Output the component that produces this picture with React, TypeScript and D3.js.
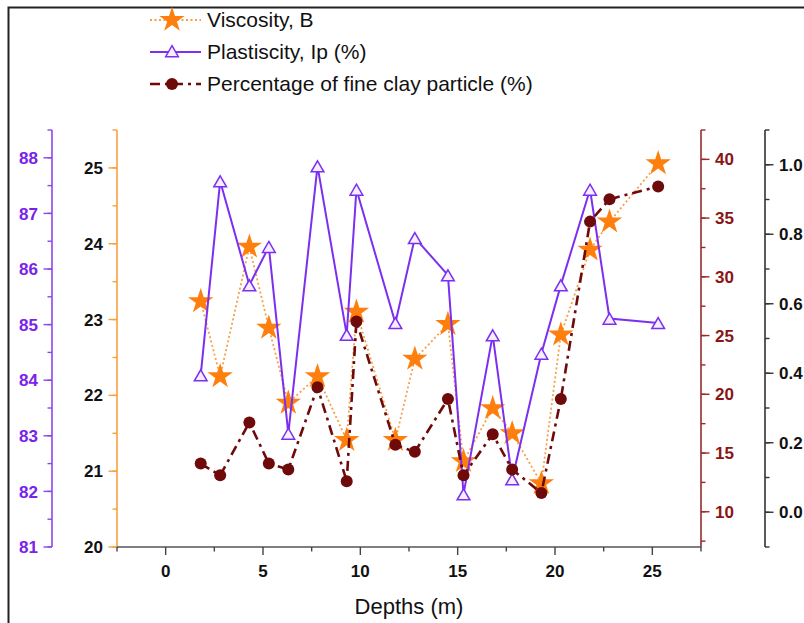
import * as d3 from "d3";
import React, { useEffect, useRef } from "react";

// depths (m), shared by the three series
const depths = [1.8, 2.8, 4.3, 5.3, 6.3, 7.8, 9.3, 9.8, 11.8, 12.8, 14.5, 15.3, 16.8, 17.8, 19.3, 20.3, 21.8, 22.8, 25.3];
const viscosity = [23.24, 22.25, 23.96, 22.89, 21.9, 22.25, 21.41, 23.1, 21.41, 22.48, 22.94, 21.13, 21.83, 21.5, 20.84, 22.8, 23.92, 24.29, 25.06];
const plasticity = [84.09, 87.58, 85.71, 86.4, 83.04, 87.85, 84.82, 87.43, 85.03, 86.56, 85.89, 81.95, 84.81, 82.22, 84.48, 85.71, 87.43, 85.11, 85.03];
const clay = [14.1, 13.1, 17.6, 14.1, 13.6, 20.6, 12.6, 26.2, 15.7, 15.1, 19.6, 13.1, 16.6, 13.6, 11.6, 19.6, 34.7, 36.6, 37.7];

const xTicks = [0, 5, 10, 15, 20, 25];
const viscTicks = [20, 21, 22, 23, 24, 25];
const plastTicks = [81, 82, 83, 84, 85, 86, 87, 88];
const clayTicks = [10, 15, 20, 25, 30, 35, 40];
const fracTicks = [0, 0.2, 0.4, 0.6, 0.8, 1.0];

const legendLabels = ["Viscosity, B", "Plastiscity, Ip (%)", "Percentage of fine clay particle (%)"];

const ORANGE = "#ff7f0e";
const ORANGE_LINE = "#f7a048";
const PURPLE = "#7d2ff0";
const DARKRED = "#6e0a0a";
const RED_AXIS = "#9a2a2a";

const App = () => {
  const svgRef = useRef(null);

  useEffect(() => {
    const svg = d3.select(svgRef.current);
    svg.selectAll("*").remove();

    const font = "'Liberation Sans', Arial, sans-serif";
    const top = 130;
    const bottom = 547;
    const left = 117;
    const right = 701;

    const x = d3.scaleLinear().domain([-2.5, 27.5]).range([left, right]);
    const yV = d3.scaleLinear().domain([20, 25.5]).range([bottom, top]);
    const yP = d3.scaleLinear().domain([81, 88.5]).range([bottom, top]);
    const yC = d3.scaleLinear().domain([7, 42.5]).range([bottom, top]);
    const yF = d3.scaleLinear().domain([-0.1, 1.1]).range([bottom, top]);

    // outer frame
    svg.append("rect")
      .attr("x", 8.5).attr("y", 7.5).attr("width", 820).attr("height", 640)
      .attr("fill", "none").attr("stroke", "#222").attr("stroke-width", 2);

    // generic vertical axis
    const vAxis = (scale, xPos, side, color, labelColor, majors, minorStep, fmt) => {
      const g = svg.append("g");
      const dir = side === "left" ? -1 : 1;
      const [d0, d1] = scale.domain();
      g.append("line")
        .attr("x1", xPos).attr("x2", xPos)
        .attr("y1", scale(d0)).attr("y2", scale(d1))
        .attr("stroke", color).attr("stroke-width", 1.6);
      const minors = d3.range(Math.ceil(d0 / minorStep - 1e-6) * minorStep, d1 + 1e-6, minorStep);
      minors.forEach((v) => {
        g.append("line")
          .attr("x1", xPos).attr("x2", xPos + dir * 4.5)
          .attr("y1", scale(v)).attr("y2", scale(v))
          .attr("stroke", color).attr("stroke-width", 1.4);
      });
      majors.forEach((v) => {
        g.append("line")
          .attr("x1", xPos).attr("x2", xPos + dir * 8.5)
          .attr("y1", scale(v)).attr("y2", scale(v))
          .attr("stroke", color).attr("stroke-width", 1.4);
        g.append("text")
          .attr("x", xPos + dir * 14)
          .attr("y", scale(v))
          .attr("dy", "0.36em")
          .attr("text-anchor", side === "left" ? "end" : "start")
          .attr("fill", labelColor)
          .style("font-family", font)
          .style("font-size", "17px")
          .style("font-weight", "bold")
          .text(fmt(v));
      });
    };

    vAxis(yP, 52, "left", "#8c46f0", "#7a22ea", plastTicks, 0.5, (v) => v);
    vAxis(yV, left, "left", "#f8a03c", "#111", viscTicks, 0.5, (v) => v);
    vAxis(yC, right, "right", RED_AXIS, "#8b1515", clayTicks, 2.5, (v) => v);
    vAxis(yF, 765, "right", "#333", "#111", fracTicks, 0.1, d3.format(".1f"));

    // x axis
    const gx = svg.append("g");
    gx.append("line")
      .attr("x1", left).attr("x2", right).attr("y1", bottom).attr("y2", bottom)
      .attr("stroke", "#555").attr("stroke-width", 1.6);
    d3.range(-2.5, 27.51, 2.5).forEach((v) => {
      gx.append("line")
        .attr("x1", x(v)).attr("x2", x(v))
        .attr("y1", bottom).attr("y2", bottom + (v % 5 === 0 ? 8 : 4.5))
        .attr("stroke", "#444").attr("stroke-width", 1.4);
    });
    xTicks.forEach((v) => {
      gx.append("text")
        .attr("x", x(v)).attr("y", 577)
        .attr("text-anchor", "middle")
        .attr("fill", "#111")
        .style("font-family", font).style("font-size", "17px").style("font-weight", "bold")
        .text(v);
    });
    svg.append("text")
      .attr("x", (left + right) / 2).attr("y", 614)
      .attr("text-anchor", "middle")
      .attr("fill", "#111")
      .style("font-family", font).style("font-size", "22px")
      .text("Depths (m)");

    const star = d3.symbol().type(d3.symbolStar).size(200);
    const tri = d3.symbol().type(d3.symbolTriangle).size(70);

    // Viscosity
    const vData = depths.map((d, i) => [d, viscosity[i]]);
    svg.append("path")
      .datum(vData)
      .attr("fill", "none").attr("stroke", ORANGE_LINE).attr("stroke-width", 1.8)
      .attr("stroke-dasharray", "2,2.5")
      .attr("d", d3.line().x((d) => x(d[0])).y((d) => yV(d[1])));
    svg.selectAll(".star").data(vData).enter().append("path")
      .attr("transform", (d) => `translate(${x(d[0])},${yV(d[1])})`)
      .attr("d", star).attr("fill", ORANGE);

    // Plasticity
    const pData = depths.map((d, i) => [d, plasticity[i]]);
    svg.append("path")
      .datum(pData)
      .attr("fill", "none").attr("stroke", PURPLE).attr("stroke-width", 2)
      .attr("d", d3.line().x((d) => x(d[0])).y((d) => yP(d[1])));
    svg.selectAll(".tri").data(pData).enter().append("path")
      .attr("transform", (d) => `translate(${x(d[0])},${yP(d[1]) + 2})`)
      .attr("d", tri).attr("fill", "#f4eeff").attr("stroke", PURPLE).attr("stroke-width", 1.5);

    // Clay
    const cData = depths.map((d, i) => [d, clay[i]]);
    svg.append("path")
      .datum(cData)
      .attr("fill", "none").attr("stroke", DARKRED).attr("stroke-width", 2.6)
      .attr("stroke-dasharray", "10,5,3,5")
      .attr("d", d3.line().x((d) => x(d[0])).y((d) => yC(d[1])));
    svg.selectAll(".dot").data(cData).enter().append("circle")
      .attr("cx", (d) => x(d[0])).attr("cy", (d) => yC(d[1]))
      .attr("r", 6).attr("fill", DARKRED);

    // legend
    const lg = svg.append("g");
    const rows = [20, 52, 84];
    const lx0 = 150;
    const lx1 = 201;
    const lxm = 172;
    lg.append("line").attr("x1", lx0).attr("x2", lx1).attr("y1", rows[0]).attr("y2", rows[0])
      .attr("stroke", ORANGE_LINE).attr("stroke-width", 1.8).attr("stroke-dasharray", "2,2.5");
    lg.append("path").attr("transform", `translate(${lxm},${rows[0]})`).attr("d", star).attr("fill", ORANGE);
    lg.append("line").attr("x1", lx0).attr("x2", lx1).attr("y1", rows[1]).attr("y2", rows[1])
      .attr("stroke", PURPLE).attr("stroke-width", 2);
    lg.append("path").attr("transform", `translate(${lxm},${rows[1] + 1})`).attr("d", tri)
      .attr("fill", "#f4eeff").attr("stroke", PURPLE).attr("stroke-width", 1.5);
    lg.append("line").attr("x1", lx0).attr("x2", lx1).attr("y1", rows[2]).attr("y2", rows[2])
      .attr("stroke", DARKRED).attr("stroke-width", 2.6).attr("stroke-dasharray", "10,5,3,5");
    lg.append("circle").attr("cx", lxm).attr("cy", rows[2]).attr("r", 6).attr("fill", DARKRED);
    legendLabels.forEach((t, i) => {
      lg.append("text")
        .attr("x", 207).attr("y", rows[i]).attr("dy", "0.35em")
        .attr("fill", "#111")
        .style("font-family", font).style("font-size", "21px")
        .text(t);
    });
  }, []);

  return (
    <svg
      ref={svgRef}
      width="804"
      height="623"
      style={{ position: "absolute", left: 0, top: 0, background: "#fff" }}
    ></svg>
  );
};

export default App;
